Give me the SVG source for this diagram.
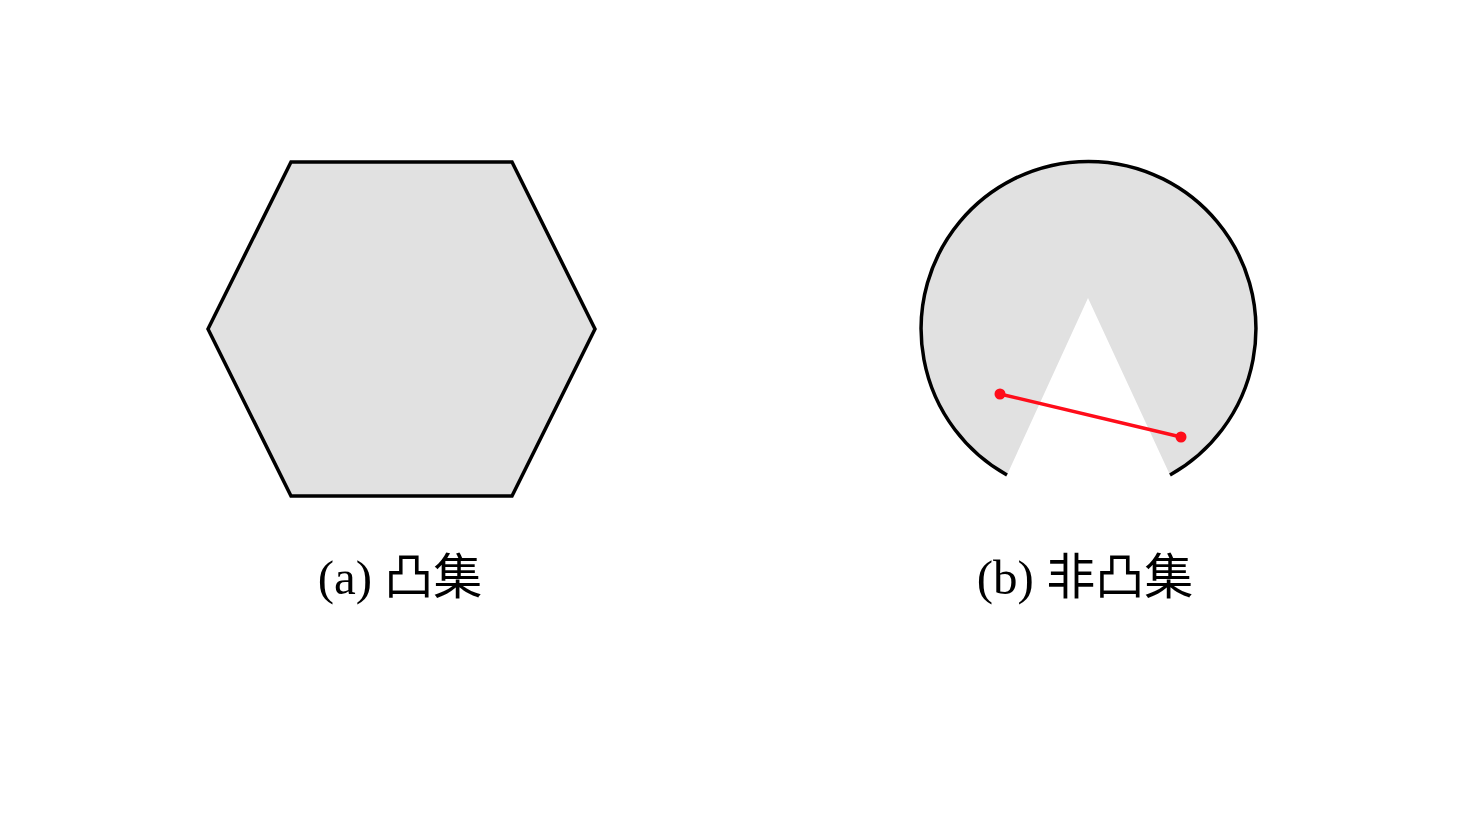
<svg xmlns="http://www.w3.org/2000/svg" width="1462" height="820" viewBox="0 0 1462 820">
<style>
.shape{fill:#e1e1e1;stroke:#000;stroke-width:3.5;stroke-linejoin:miter}
.lbl{font-family:"Liberation Serif","Noto Sans CJK SC",serif;font-size:49px;fill:#000;text-anchor:middle}
.seg{stroke:#ff0d1a;stroke-width:3.5;fill:none}
.dot{fill:#ff0d1a}
</style>
<rect width="1462" height="820" fill="#fff"/>
<g id="convex">
<polygon class="shape" points="291,162 512,162 595,329 512,496 291,496 208,329"/>
<text class="lbl" x="400" y="594">(a) 凸集</text>
</g>
<g id="nonconvex">
<path d="M1007,475 A167.4,167.4 0 1 1 1170,475 L1088,298 Z" fill="#e1e1e1" stroke="none"/>
<path d="M1007,475 A167.4,167.4 0 1 1 1170,475" fill="none" stroke="#000" stroke-width="3.5"/>
<text class="lbl" x="1085" y="594">(b) 非凸集</text>
</g>
<g id="connectors">
<line class="seg" x1="1000" y1="394" x2="1181" y2="437"/>
<circle class="dot" cx="1000" cy="394" r="5.5"/>
<circle class="dot" cx="1181" cy="437" r="5.5"/>
</g>
</svg>
